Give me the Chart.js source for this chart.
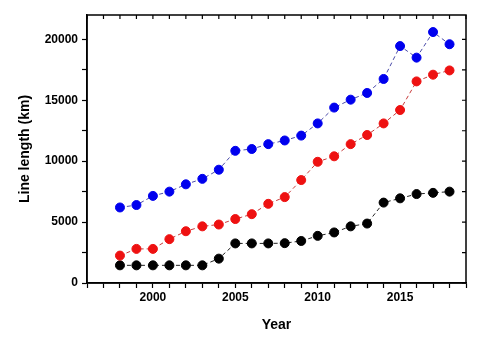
<!DOCTYPE html>
<html>
<head>
<meta charset="utf-8">
<script src="https://cdn.jsdelivr.net/npm/chart.js@4/dist/chart.umd.min.js"></script>
<style>
    html, body { margin: 0; padding: 0; background: #fff; }
    #wrap { width: 480px; height: 338px; }
</style>
</head>
<body>
<div id="wrap"><canvas id="chart"></canvas></div>
<script>
const years = [1998, 1999, 2000, 2001, 2002, 2003, 2004, 2005, 2006, 2007, 2008,
    2009, 2010, 2011, 2012, 2013, 2014, 2015, 2016, 2017, 2018]
const blueValues = [6200, 6400, 7150, 7500, 8100, 8550, 9300, 10850, 11000, 11400, 11700,
    12100, 13100, 14400, 15050, 15600, 16750, 19450, 18500, 20600, 19600]
const redValues = [2250, 2800, 2800, 3600, 4250, 4650, 4800, 5250, 5650, 6500, 7050,
    8450, 9950, 10400, 11400, 12150, 13100, 14200, 16550, 17100, 17450]
const blackValues = [1450, 1450, 1450, 1450, 1450, 1450, 2000, 3250, 3250, 3250, 3270,
    3450, 3870, 4150, 4650, 4880, 6600, 6950, 7300, 7400, 7500]
const xTickLabels = [2000, 2005, 2010, 2015]
const yTicks = [0, 2500, 5000, 7500, 10000, 12500, 15000, 17500, 20000]
const yTickLabels = [0, 5000, 10000, 15000, 20000]

const font = "'Liberation Sans', Arial, sans-serif"

function makeSeries(label, values, color, lineColor) {
    return {
        label: label,
        data: values.map((v, i) => ({x: years[i], y: v})),
        backgroundColor: color,
        borderColor: lineColor,
        pointBackgroundColor: color,
        pointBorderColor: color,
        pointRadius: 4.5,
        pointHoverRadius: 4.5,
        borderWidth: 1,
        borderDash: [4, 3],
        tension: 0
    }
}

// frame plus inward ticks on top and right side
const framePlugin = {
    id: 'frame',
    afterDraw(chart) {
        const {ctx, chartArea: a, scales} = chart
        ctx.save()
        ctx.strokeStyle = '#000'
        ctx.lineWidth = 1.5
        ctx.strokeRect(a.left, a.top, a.right - a.left, a.bottom - a.top)
        ctx.lineWidth = 1.2
        ctx.beginPath()
        scales.x.ticks.forEach(t => {
            const px = scales.x.getPixelForValue(t.value)
            ctx.moveTo(px, a.top)
            ctx.lineTo(px, a.top + 4)
        })
        scales.y.ticks.forEach(t => {
            const py = scales.y.getPixelForValue(t.value)
            ctx.moveTo(a.right, py)
            ctx.lineTo(a.right - 4, py)
        })
        ctx.stroke()
        ctx.restore()
    }
}

new Chart(document.getElementById('chart'), {
    type: 'line',
    data: {
        datasets: [
            makeSeries('Blue', blueValues, '#0000ee', '#4a4aa8'),
            makeSeries('Red', redValues, '#ee1111', '#c83c3c'),
            makeSeries('Black', blackValues, '#000000', '#222222')
        ]
    },
    plugins: [framePlugin],
    options: {
        responsive: true,
        maintainAspectRatio: false,
        animation: false,
        layout: {padding: {top: 15, right: 14, left: 13, bottom: 0}},
        plugins: {legend: {display: false}, tooltip: {enabled: false}},
        scales: {
            x: {
                type: 'linear',
                min: 1996,
                max: 2019,
                afterFit: s => { s.height = 55 },
                grid: {drawOnChartArea: false, tickLength: 5, tickWidth: 1.2, color: '#000'},
                border: {color: '#000', width: 1.5},
                ticks: {
                    stepSize: 1,
                    autoSkip: false,
                    maxRotation: 0,
                    padding: 2,
                    color: '#000',
                    font: {family: font, size: 12, weight: 'bold'},
                    callback: v => xTickLabels.includes(Math.round(v)) ? String(Math.round(v)) : ''
                },
                title: {
                    display: true,
                    text: 'Year',
                    color: '#000',
                    font: {family: font, size: 14, weight: 'bold'},
                    padding: {top: 8}
                }
            },
            y: {
                min: 0,
                max: 22000,
                afterBuildTicks: s => { s.ticks = yTicks.map(v => ({value: v})) },
                afterFit: s => { s.width = 74 },
                grid: {drawOnChartArea: false, tickLength: 5, tickWidth: 1.2, color: '#000'},
                border: {color: '#000', width: 1.5},
                ticks: {
                    autoSkip: false,
                    padding: 4,
                    color: '#000',
                    font: {family: font, size: 12, weight: 'bold'},
                    callback: v => yTickLabels.includes(v) ? String(v) : ''
                },
                title: {
                    display: true,
                    text: 'Line length (km)',
                    color: '#000',
                    font: {family: font, size: 14, weight: 'bold'},
                    padding: {bottom: 4}
                }
            }
        }
    }
})
</script>
</body>
</html>
